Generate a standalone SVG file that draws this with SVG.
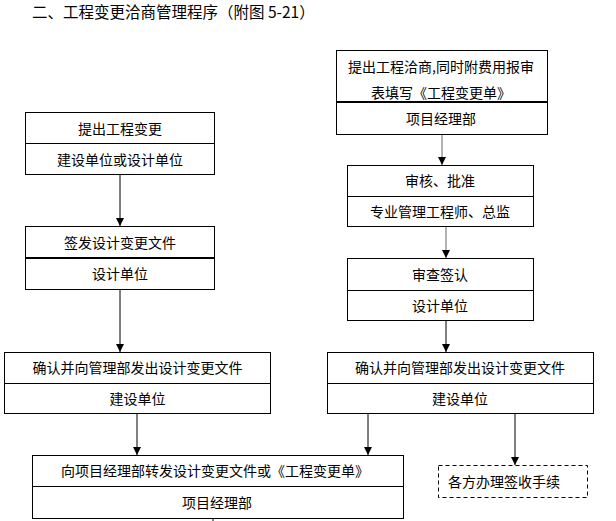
<svg xmlns="http://www.w3.org/2000/svg" width="616" height="521" viewBox="0 0 616 521">
<defs>
<style>
text{font-family:"Noto Sans CJK SC","Noto Sans",sans-serif;font-size:14px;fill:#000;text-anchor:middle;dominant-baseline:central}
.title{font-size:15.5px;text-anchor:start}
.box{fill:#fff;stroke:#000;stroke-width:1}
.dash{fill:#fff;stroke:#000;stroke-width:1;stroke-dasharray:4 3}
.div{stroke:#000;stroke-width:1}
.div2{stroke:#000;stroke-width:2}
.con{stroke:#000;stroke-width:1;fill:none;marker-end:url(#ah)}
.gray{stroke:#666}
</style>
<marker id="ah" viewBox="0 0 8 8" refX="8" refY="4" markerWidth="8" markerHeight="8" markerUnits="userSpaceOnUse" orient="auto">
<path d="M0,0 L8,4 L0,8 Z" fill="#000"/>
</marker>
</defs>
<rect width="616" height="521" fill="#fff"/>
<text class="title" x="32" y="11">二、工程变更洽商管理程序（附图 5-21）</text>

<g id="connectors">
<line class="con" x1="120" y1="174" x2="120" y2="226"/>
<line class="con" x1="120" y1="289" x2="120" y2="352"/>
<line class="con gray" x1="442" y1="134" x2="442" y2="165"/>
<line class="con gray" x1="446" y1="226" x2="446" y2="258"/>
<line class="con" x1="446" y1="320" x2="446" y2="352"/>
<line class="con" x1="137" y1="413" x2="137" y2="455"/>
<line class="con" x1="368" y1="413" x2="368" y2="455"/>
<line class="con" x1="515" y1="413" x2="515" y2="465"/>
<line stroke="#000" stroke-width="1" x1="213" y1="518" x2="213" y2="521"/>
</g>

<g id="n1">
<rect class="box" x="25.5" y="112.5" width="189" height="62"/>
<line class="div" x1="25.5" y1="143.5" x2="214.5" y2="143.5"/>
<text x="120" y="128">提出工程变更</text>
<text x="120" y="159">建设单位或设计单位</text>
</g>

<g id="n2">
<rect class="box" x="25.5" y="226.5" width="189" height="63"/>
<line class="div2" x1="25.5" y1="258" x2="214.5" y2="258"/>
<text x="120" y="242">签发设计变更文件</text>
<text x="120" y="273">设计单位</text>
</g>

<g id="n3">
<rect class="box" x="4.5" y="352.5" width="266" height="61"/>
<line class="div" x1="4.5" y1="383.5" x2="270.5" y2="383.5"/>
<text x="137.5" y="367">确认并向管理部发出设计变更文件</text>
<text x="137.5" y="398">建设单位</text>
</g>

<g id="n4">
<rect class="box" x="336.5" y="50.5" width="211" height="84"/>
<line class="div2" x1="336.5" y1="102" x2="547.5" y2="102"/>
<text x="441" y="66">提出工程洽商,同时附费用报审</text>
<text x="441" y="92">表填写《工程变更单》</text>
<text x="441" y="118">项目经理部</text>
</g>

<g id="n5">
<rect class="box" x="347.5" y="165.5" width="186" height="61"/>
<line class="div" x1="347.5" y1="196.5" x2="533.5" y2="196.5"/>
<text x="440" y="180">审核、批准</text>
<text x="440" y="211">专业管理工程师、总监</text>
</g>

<g id="n6">
<rect class="box" x="347.5" y="258.5" width="186" height="62"/>
<line class="div" x1="347.5" y1="290.5" x2="533.5" y2="290.5"/>
<text x="440" y="274">审查签认</text>
<text x="440" y="305">设计单位</text>
</g>

<g id="n7">
<rect class="box" x="327.5" y="352.5" width="266" height="61"/>
<line class="div" x1="327.5" y1="383.5" x2="593.5" y2="383.5"/>
<text x="460" y="367">确认并向管理部发出设计变更文件</text>
<text x="460" y="398">建设单位</text>
</g>

<g id="n8">
<rect class="box" x="32.5" y="455.5" width="371" height="63"/>
<line class="div" x1="32.5" y1="486.5" x2="403.5" y2="486.5"/>
<text x="215" y="470">向项目经理部转发设计变更文件或《工程变更单》</text>
<text x="217" y="502">项目经理部</text>
</g>

<g id="n9">
<rect class="dash" x="438.5" y="465.5" width="149" height="32"/>
<text x="504" y="481">各方办理签收手续</text>
</g>
</svg>
